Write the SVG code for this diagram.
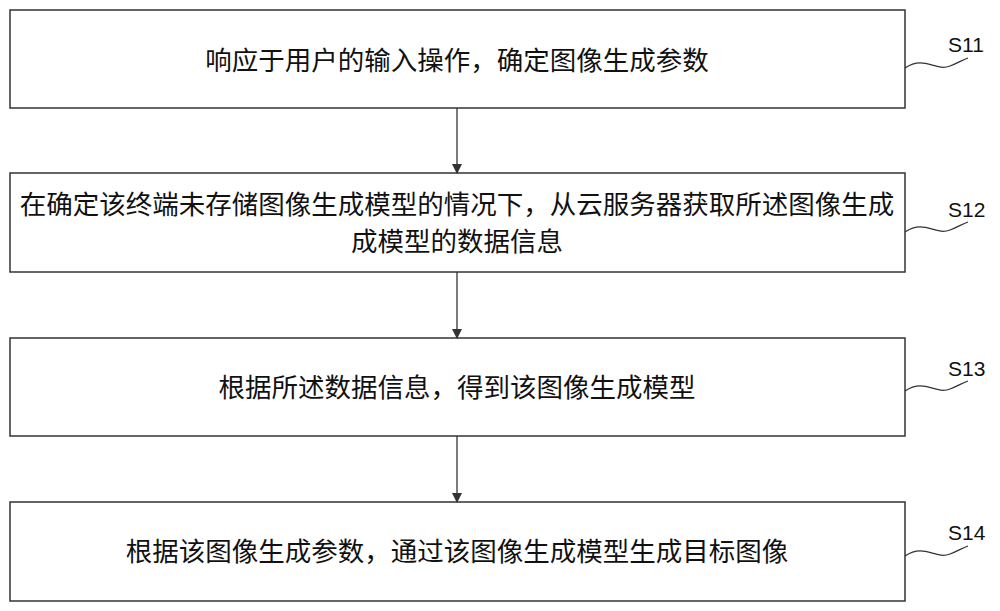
<svg xmlns="http://www.w3.org/2000/svg" width="1000" height="611" viewBox="0 0 1000 611">
<style>
.b{fill:#fff;stroke:#333;stroke-width:1.5}
.t{font-family:"Noto Sans CJK SC",sans-serif;font-size:26.5px;fill:#111;text-anchor:middle}
.l{font-family:"Liberation Sans",sans-serif;font-size:21px;fill:#111}
.c{fill:none;stroke:#333;stroke-width:1.3}
</style>
<defs><marker id="a" markerWidth="10" markerHeight="10" refX="9" refY="5" orient="auto" markerUnits="userSpaceOnUse"><path d="M0,0L10,5L0,10z" fill="#333"/></marker></defs>
<rect width="1000" height="611" fill="#fff"/>
<g id="n1"><rect class="b" x="10" y="10" width="895" height="98"/><text class="t" x="457" y="70">响应于用户的输入操作，确定图像生成参数</text><text class="l" x="948" y="52">S11</text><path class="c" d="M905,68 C925,55 935,72 950,66 C958,63 962,60 968,58"/></g>
<g id="n2"><rect class="b" x="10" y="173" width="895" height="99"/><text class="t" x="457" y="214">在确定该终端未存储图像生成模型的情况下，从云服务器获取所述图像生成</text><text class="t" x="457" y="251">成模型的数据信息</text><text class="l" x="948" y="217">S12</text><path class="c" d="M905,232 C925,219 935,236 950,230 C958,227 962,224 968,222"/></g>
<g id="n3"><rect class="b" x="10" y="338" width="895" height="98"/><text class="t" x="457" y="397">根据所述数据信息，得到该图像生成模型</text><text class="l" x="948" y="376">S13</text><path class="c" d="M905,391 C925,378 935,395 950,389 C958,386 962,383 968,381"/></g>
<g id="n4"><rect class="b" x="10" y="502" width="895" height="99"/><text class="t" x="457" y="561">根据该图像生成参数，通过该图像生成模型生成目标图像</text><text class="l" x="948" y="540">S14</text><path class="c" d="M905,556 C925,543 935,560 950,554 C958,551 962,548 968,546"/></g>
<g id="edges"><line class="c" x1="457" y1="108" x2="457" y2="173" marker-end="url(#a)"/><line class="c" x1="457" y1="272" x2="457" y2="338" marker-end="url(#a)"/><line class="c" x1="457" y1="436" x2="457" y2="502" marker-end="url(#a)"/></g>
</svg>
